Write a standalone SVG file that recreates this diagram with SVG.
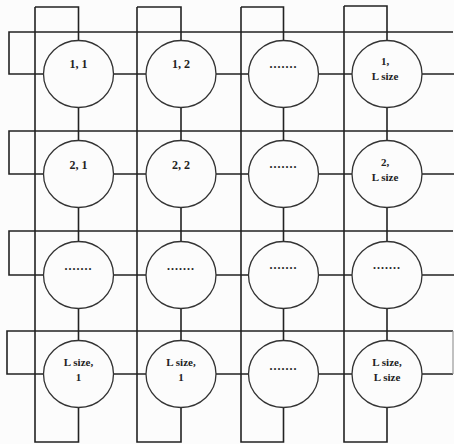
<svg xmlns="http://www.w3.org/2000/svg" width="454" height="444" viewBox="0 0 454 444">
<style>
.bg{fill:#fcfcfc}
.ln{fill:none;stroke:#222;stroke-width:1.6;stroke-linejoin:miter}
.faint{fill:none;stroke:#999;stroke-width:1.2}
.nd{fill:#fcfcfc;stroke:#333;stroke-width:1.3}
.t{font-family:"Liberation Serif","Times New Roman",serif;font-weight:bold;font-size:11px;fill:#222;text-anchor:middle}
.t1{font-size:12px}
.dots{font-size:12px;letter-spacing:1px}
</style>
<rect class="bg" x="0" y="0" width="454" height="444"/>
<g id="connectors">
  <!-- long vertical lines with top/bottom wrap loops -->
  <path class="ln" d="M35 7 V442 H78.5 V407.5 M35 7 H78.5 V40.5"/>
  <path class="ln" d="M137 7 V442 H181 V407.5 M137 7 H181 V40.5"/>
  <path class="ln" d="M241 7 V442 H283.5 V407.5 M241 7 H283.5 V40.5"/>
  <path class="ln" d="M344 6 V442 H387 V407.5 M344 6 H387 V40.5"/>
  <!-- long horizontal lines with left wrap loops -->
  <path class="ln" d="M453 32 H9 V74 H43.5"/>
  <path class="ln" d="M453 131 H9 V174 H43.5"/>
  <path class="ln" d="M453 231 H9 V275 H43.5"/>
  <path class="ln" d="M453 331 H7 V374 H43.5"/>
  <!-- right stubs -->
  <path class="ln" d="M422 74 H454 M422 174 H454 M422 275 H454 M422 374 H453"/>
  <path class="faint" d="M453 331 V374"/>
  <!-- horizontal links between nodes -->
  <path class="ln" d="M113.5 74 H146 M216 74 H248.5 M318.5 74 H352"/>
  <path class="ln" d="M113.5 174 H146 M216 174 H248.5 M318.5 174 H352"/>
  <path class="ln" d="M113.5 275 H146 M216 275 H248.5 M318.5 275 H352"/>
  <path class="ln" d="M113.5 374 H146 M216 374 H248.5 M318.5 374 H352"/>
  <!-- vertical links between nodes -->
  <path class="ln" d="M78.5 107.5 V140.5 M78.5 207.5 V241.5 M78.5 308.5 V340.5"/>
  <path class="ln" d="M181 107.5 V140.5 M181 207.5 V241.5 M181 308.5 V340.5"/>
  <path class="ln" d="M283.5 107.5 V140.5 M283.5 207.5 V241.5 M283.5 308.5 V340.5"/>
  <path class="ln" d="M387 107.5 V140.5 M387 207.5 V241.5 M387 308.5 V340.5"/>
</g>
<g id="n11"><ellipse class="nd" cx="78.5" cy="74" rx="35" ry="33.5"/><text class="t t1" x="78.5" y="68">1, 1</text></g>
<g id="n12"><ellipse class="nd" cx="181" cy="74" rx="35" ry="33.5"/><text class="t t1" x="181" y="68">1, 2</text></g>
<g id="n13"><ellipse class="nd" cx="283.5" cy="74" rx="35" ry="33.5"/><text class="t dots" x="283.5" y="68">.......</text></g>
<g id="n14"><ellipse class="nd" cx="387" cy="74" rx="35" ry="33.5"/><text class="t" x="385" y="65">1,</text><text class="t" x="385" y="80">L size</text></g>
<g id="n21"><ellipse class="nd" cx="78.5" cy="174" rx="35" ry="33.5"/><text class="t t1" x="78.5" y="169">2, 1</text></g>
<g id="n22"><ellipse class="nd" cx="181" cy="174" rx="35" ry="33.5"/><text class="t t1" x="181" y="169">2, 2</text></g>
<g id="n23"><ellipse class="nd" cx="283.5" cy="174" rx="35" ry="33.5"/><text class="t dots" x="283.5" y="168">.......</text></g>
<g id="n24"><ellipse class="nd" cx="387" cy="174" rx="35" ry="33.5"/><text class="t" x="385" y="166">2,</text><text class="t" x="385" y="181">L size</text></g>
<g id="n31"><ellipse class="nd" cx="78.5" cy="275" rx="35" ry="33.5"/><text class="t dots" x="78.5" y="270">.......</text></g>
<g id="n32"><ellipse class="nd" cx="181" cy="275" rx="35" ry="33.5"/><text class="t dots" x="181" y="270">.......</text></g>
<g id="n33"><ellipse class="nd" cx="283.5" cy="275" rx="35" ry="33.5"/><text class="t dots" x="283.5" y="269">.......</text></g>
<g id="n34"><ellipse class="nd" cx="387" cy="275" rx="35" ry="33.5"/><text class="t dots" x="387" y="269">.......</text></g>
<g id="n41"><ellipse class="nd" cx="78.5" cy="374" rx="35" ry="33.5"/><text class="t" x="78.5" y="366">L size,</text><text class="t" x="78.5" y="381">1</text></g>
<g id="n42"><ellipse class="nd" cx="181" cy="374" rx="35" ry="33.5"/><text class="t" x="181" y="366">L size,</text><text class="t" x="181" y="381">1</text></g>
<g id="n43"><ellipse class="nd" cx="283.5" cy="374" rx="35" ry="33.5"/><text class="t dots" x="283.5" y="370">.......</text></g>
<g id="n44"><ellipse class="nd" cx="387" cy="374" rx="35" ry="33.5"/><text class="t" x="387" y="366">L size,</text><text class="t" x="387" y="381">L size</text></g>
</svg>
